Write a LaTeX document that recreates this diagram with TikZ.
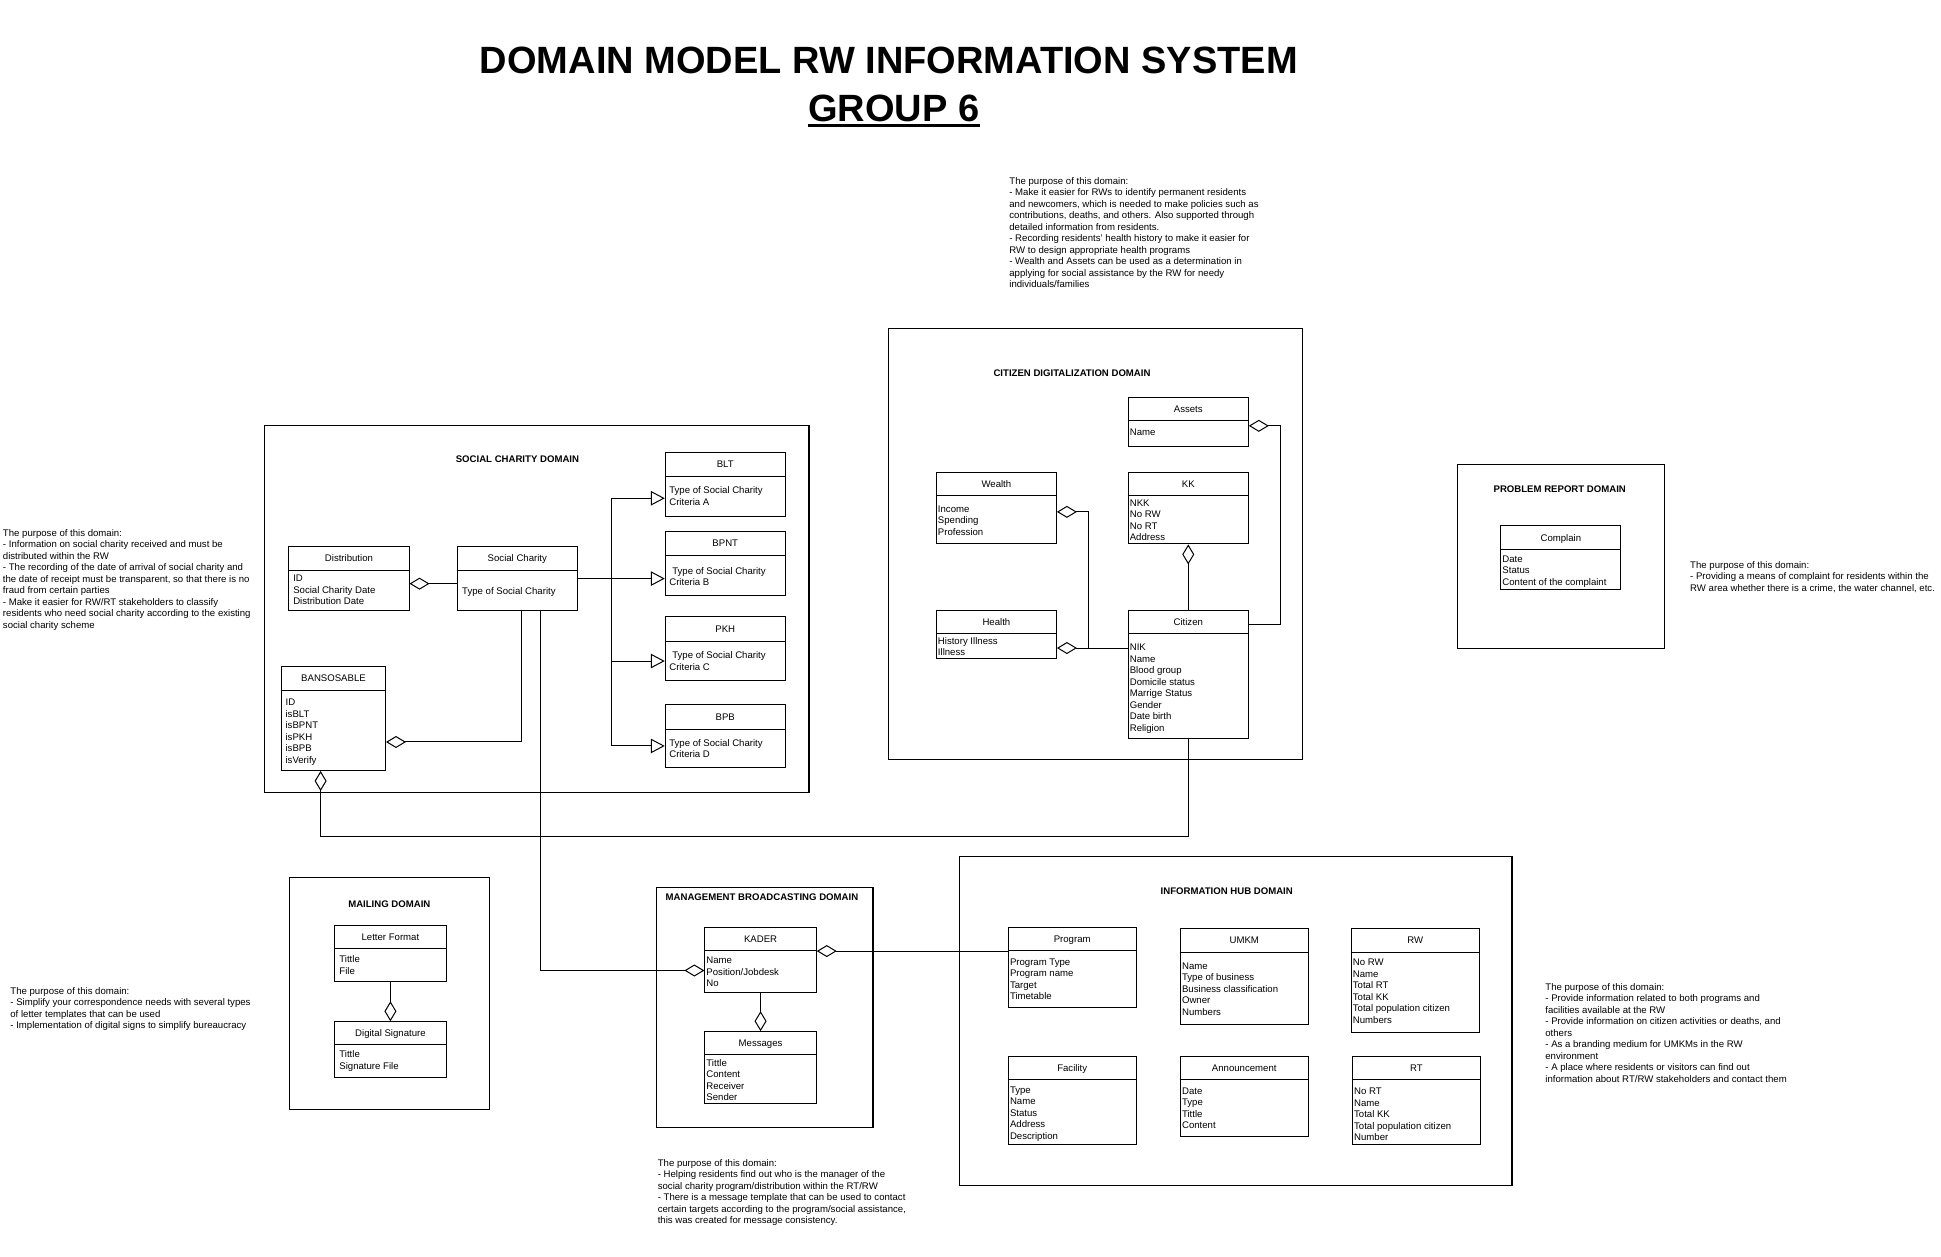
\documentclass[tikz,border=0pt]{standalone}
\usepackage{fontspec}
\setmainfont{Liberation Sans}
\usetikzlibrary{arrows.meta,calc}
\newcommand\umlclass[9]{%
  \node[classbox, minimum width=#4*0.6189pt, minimum height=#5*0.6189pt, anchor=north west] (#1) at (#2,#3) {};
  \draw ($(#1.north west)+(0,#6)$) -- ($(#1.north east)+(0,#6)$);
  \node[hdr] at ($(#1.north)+(0,#6/2)$) {#7};
  \node[attr] at ($(#1.north west)+(#9)$) {\parbox[t]{150pt}{\raggedright #8}};
}
\begin{document}
\begin{tikzpicture}[x=0.6189pt,y=-0.6189pt,
  line width=0.5pt,
  classbox/.style={draw, rectangle, inner sep=0pt, line width=0.5pt},
  frame/.style={draw, rectangle, inner sep=0pt, line width=0.6pt, anchor=north west},
  hdr/.style={inner sep=0pt, text height=3.45pt, text depth=0pt, font=\fontsize{4.8pt}{5.75pt}\selectfont},
  attr/.style={inner sep=0pt, anchor=base west, font=\fontsize{4.8pt}{5.75pt}\selectfont},
  dtitle/.style={inner sep=0pt, text height=3.45pt, text depth=0pt, font=\fontsize{4.8pt}{5.75pt}\selectfont\bfseries},
  note/.style={inner sep=0pt, anchor=base west, font=\fontsize{4.8pt}{5.75pt}\selectfont},
  aggstart/.style={{Diamond[open,length=10pt,width=6pt]}-},
  aggend/.style={-{Diamond[open,length=10pt,width=6pt]}},
  genz/.style={-{Triangle[open,length=7pt,width=7.3pt]}},
]
\useasboundingbox (0,0) rectangle (1568,1015);
\fill[white] (0,0) rectangle (1568,1015);

% ---------- title ----------
\node[inner sep=0pt, text height=13.6pt, text depth=0pt, font=\fontsize{19pt}{23pt}\selectfont\bfseries] (title) at (718,48) {DOMAIN MODEL RW INFORMATION SYSTEM};
\node[inner sep=0pt, text height=13.6pt, text depth=0pt, font=\fontsize{19pt}{23pt}\selectfont\bfseries] (grp) at (722,87) {GROUP 6};
\draw[line width=1.3pt] ($(grp.south west)+(0,3)$) -- ($(grp.south east)+(0,3)$);

% ---------- domain frames ----------
\node[frame, minimum width=440*0.6189pt, minimum height=297*0.6189pt] (fsocial) at (213,343) {};
\node[frame, minimum width=334.6*0.6189pt, minimum height=348*0.6189pt] (fcitizen) at (717,265) {};
\node[frame, minimum width=167.4*0.6189pt, minimum height=148.7*0.6189pt] (fproblem) at (1176.6,374.8) {};
\node[frame, minimum width=161.6*0.6189pt, minimum height=187.5*0.6189pt] (fmail) at (233.4,708.5) {};
\node[frame, minimum width=174.7*0.6189pt, minimum height=193.7*0.6189pt] (fmanage) at (530,716.7) {};
\node[frame, minimum width=446.3*0.6189pt, minimum height=265.5*0.6189pt] (finfo) at (774.7,691.5) {};

\node[dtitle] (tsocial) at (418,371) {SOCIAL CHARITY DOMAIN};
\node[dtitle] (tcitizen) at (866,301.5) {CITIZEN DIGITALIZATION DOMAIN};
\node[dtitle] (tproblem) at (1260,395) {PROBLEM REPORT DOMAIN};
\node[dtitle] (tmail) at (314.5,730.5) {MAILING DOMAIN};
\node[dtitle] (tmanage) at (615.5,725) {MANAGEMENT BROADCASTING DOMAIN};
\node[dtitle] (tinfo) at (991,719.5) {INFORMATION HUB DOMAIN};

% ---------- social charity classes ----------
\umlclass{dist}{233}{441}{97}{52}{20}{Distribution}{ID\\Social Charity Date\\Distribution Date}{3.5,29}
\umlclass{sc}{369}{441}{97}{52}{20}{Social Charity}{Type of Social Charity}{4,39}
\umlclass{blt}{537}{365}{97}{52}{20}{BLT}{Type of Social Charity\\Criteria A}{3.3,34}
\umlclass{bpnt}{537}{429}{97}{52}{20}{BPNT}{\hspace{1.5pt}Type of Social Charity\\Criteria B}{3.3,35}
\umlclass{pkh}{537}{498}{97}{51}{20}{PKH}{\hspace{1.5pt}Type of Social Charity\\Criteria C}{3.3,34}
\umlclass{bpb}{537}{569}{97}{51}{20}{BPB}{Type of Social Charity\\Criteria D}{3.3,34}
\umlclass{bans}{227}{538}{84}{84}{19.5}{BANSOSABLE}{ID\\isBLT\\isBPNT\\isPKH\\isBPB\\isVerify}{3.3,32}

% ---------- citizen classes ----------
\umlclass{assets}{911}{321}{97}{39}{19}{Assets}{Name}{1.3,31}
\umlclass{wealth}{756}{381}{97}{58}{19.6}{Wealth}{Income\\Spending\\Profession}{1.3,33}
\umlclass{kk}{911}{381}{97}{58}{19.6}{KK}{NKK\\No RW\\No RT\\Address}{1.3,28}
\umlclass{health}{756}{493}{97}{38.5}{19}{Health}{History Illness\\Illness}{1.3,27.5}
\umlclass{citizen}{911}{493}{97}{103}{19}{Citizen}{NIK\\Name\\Blood group\\Domicile status\\Marrige Status\\Gender\\Date birth\\Religion}{1.3,32.5}

% ---------- problem report ----------
\umlclass{complain}{1212}{424.5}{97}{51.5}{19.5}{Complain}{Date\\Status\\Content of the complaint}{1.3,29.8}

% ---------- mailing ----------
\umlclass{letter}{269.5}{747}{91}{45.5}{19.5}{Letter Format}{Tittle\\File}{4.3,30.6}
\umlclass{digsig}{269.5}{825}{91}{45}{19}{Digital Signature}{Tittle\\Signature File}{4.3,29.6}

% ---------- management broadcasting ----------
\umlclass{kader}{569}{749}{90}{52}{19}{KADER}{Name\\Position/Jobdesk\\No}{1.3,29.5}
\umlclass{msg}{569}{833}{90}{58}{19}{Messages}{Tittle\\Content\\Receiver\\Sender}{1.3,28.4}

% ---------- information hub ----------
\umlclass{program}{814}{748.5}{103.5}{64.7}{19.5}{Program}{Program Type\\Program name\\Target\\Timetable}{1.5,31.3}
\umlclass{umkm}{953}{750}{103.5}{77.4}{19.3}{UMKM}{Name\\Type of business\\Business classification\\Owner\\Numbers}{1.5,33}
\umlclass{rw}{1091}{750}{103.9}{84}{19.3}{RW}{No RW\\Name\\Total RT\\Total KK\\Total population citizen\\Numbers}{1.5,30.3}
\umlclass{facility}{814}{853.3}{103.5}{71}{19}{Facility}{Type\\Name\\Status\\Address\\Description}{1.5,29.7}
\umlclass{announce}{953}{853.3}{103.5}{64.6}{19}{Announcement}{Date\\Type\\Tittle\\Content}{1.5,30.7}
\umlclass{rt}{1092}{853.3}{103.5}{71}{19}{RT}{No RT\\Name\\Total KK\\Total population citizen\\Number}{1.5,31}

% ---------- connectors: social charity ----------
\draw[aggstart] ($(dist.north east)+(0,30.5)$) -- ($(sc.north west)+(0,30.5)$);
\coordinate (busT) at (493.6,402.5);
\coordinate (busB) at (493.6,602.6);
\coordinate (busP) at (493.6,534);
\draw (busT) -- (busB);
\draw[genz] (sc.east) -- (sc.east -| bpnt.west);
\draw[genz] (busT) -- (busT -| blt.west);
\draw[genz] (busP) -- (busP -| pkh.west);
\draw[genz] (busB) -- (busB -| bpb.west);
\draw[aggend] ($(sc.south west)+(52,0)$) |- ($(bans.north east)+(0,61.4)$);
\draw[aggend] ($(sc.south west)+(68,0)$) |- ($(kader.north west)+(0,35)$);
\draw[aggstart] ($(bans.south west)+(32,0)$) -- ++(0,53) -| (citizen.south);

% ---------- connectors: citizen ----------
\draw[aggstart] ($(assets.north east)+(0,23)$) -- ++(26,0) |- ($(citizen.north east)+(0,11.5)$);
\draw[aggstart] (kk.south) -- (citizen.north);
\coordinate (jn) at (879,523.5);
\draw[aggstart] ($(wealth.north east)+(0,32.5)$) -| (jn);
\draw[aggstart] ($(health.north east)+(0,30.5)$) -- ($(citizen.north west)+(0,30.5)$);

% ---------- connectors: mailing / management ----------
\draw[aggend] (letter.south) -- (digsig.north);
\draw[aggend] (kader.south) -- (msg.north);
\coordinate (kr) at ($(kader.north east)+(0,19.3)$);
\draw[aggstart] (kr) -- (kr -| program.west);

% ---------- notes ----------
\node[note] (ncitizen) at (815,149) {\parbox[t]{220pt}{\raggedright The purpose of this domain:\\- Make it easier for RWs to identify permanent residents\\and newcomers, which is needed to make policies such as\\contributions, deaths, and others. Also supported through\\detailed information from residents.\\- Recording residents' health history to make it easier for\\RW to design appropriate health programs\\- Wealth and Assets can be used as a determination in\\applying for social assistance by the RW for needy\\individuals/families}};
\node[note] (nsocial) at (2,433) {\parbox[t]{220pt}{\raggedright The purpose of this domain:\\- Information on social charity received and must be\\distributed within the RW\\- The recording of the date of arrival of social charity and\\the date of receipt must be transparent, so that there is no\\fraud from certain parties\\- Make it easier for RW/RT stakeholders to classify\\residents who need social charity according to the existing\\social charity scheme}};
\node[note] (nproblem) at (1365,459) {\parbox[t]{220pt}{\raggedright The purpose of this domain:\\- Providing a means of complaint for residents within the\\RW area whether there is a crime, the water channel, etc.}};
\node[note] (nmail) at (8,803) {\parbox[t]{220pt}{\raggedright The purpose of this domain:\\- Simplify your correspondence needs with several types\\of letter templates that can be used\\- Implementation of digital signs to simplify bureaucracy}};
\node[note] (nmanage) at (531,942) {\parbox[t]{220pt}{\raggedright The purpose of this domain:\\- Helping residents find out who is the manager of the\\social charity program/distribution within the RT/RW\\- There is a message template that can be used to contact\\certain targets according to the program/social assistance,\\this was created for message consistency.}};
\node[note] (ninfo) at (1248,800) {\parbox[t]{220pt}{\raggedright The purpose of this domain:\\- Provide information related to both programs and\\facilities available at the RW\\- Provide information on citizen activities or deaths, and\\others\\- As a branding medium for UMKMs in the RW\\environment\\- A place where residents or visitors can find out\\information about RT/RW stakeholders and contact them}};
\end{tikzpicture}
\end{document}
